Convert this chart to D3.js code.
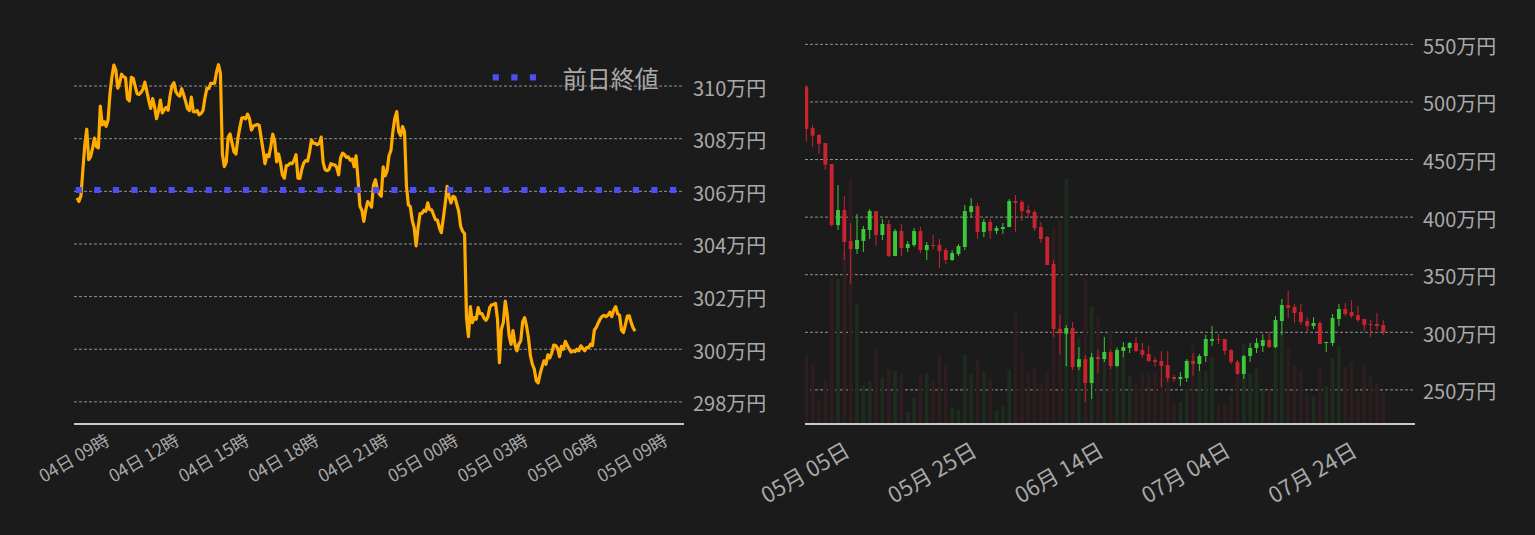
<!DOCTYPE html>
<html>
<head>
<meta charset="utf-8">
<script src="https://d3js.org/d3.v7.min.js"></script>
<style>
  html, body { margin: 0; padding: 0; background: #1b1b1b; }
  svg { display: block; font-family: "Noto Sans CJK JP", "Noto Sans", sans-serif; }
</style>
</head>
<body>
<div id="chart"></div>
<script>
// ---- intraday (5 min steps, 万円) ----
const intradayStart = new Date(2022, 7, 4, 7, 35);
const intradayStepMin = 5;
const intradayValues = [
  305.75, 305.62, 305.83, 306.82, 307.77, 308.36, 307.20, 307.32, 307.64, 308.02,
  307.70, 307.65, 309.24, 308.52, 308.65, 308.47, 308.71, 309.72, 310.35, 310.80,
  310.61, 309.92, 310.13, 310.45, 310.35, 310.32, 309.52, 309.44, 310.33, 310.29,
  309.99, 309.71, 309.68, 309.76, 309.87, 310.15, 309.81, 309.46, 309.15, 309.52,
  309.22, 308.76, 309.04, 309.47, 308.98, 309.10, 309.19, 309.08, 309.63, 310.01,
  310.13, 309.79, 309.67, 309.62, 309.90, 309.68, 309.42, 309.14, 309.07, 309.58,
  309.03, 309.02, 309.07, 308.91, 308.96, 309.07, 309.55, 309.91, 309.90, 310.10,
  310.10, 310.11, 310.54, 310.81, 310.48, 307.42, 306.94, 307.10, 308.06, 308.18,
  307.83, 307.50, 307.42, 308.01, 308.42, 308.78, 308.80, 308.75, 308.93, 308.76,
  308.33, 308.48, 308.51, 308.54, 308.51, 308.04, 307.58, 307.05, 307.39, 307.32,
  307.70, 308.17, 307.89, 307.12, 307.42, 307.08, 306.62, 306.50, 306.98, 306.99,
  307.07, 307.05, 307.18, 307.39, 306.50, 306.49, 306.84, 307.08, 307.17, 307.15,
  307.49, 307.95, 307.83, 307.82, 307.77, 307.82, 308.06, 307.10, 306.83, 306.79,
  306.83, 307.05, 307.01, 307.01, 306.91, 306.63, 307.26, 307.45, 307.40, 307.29,
  307.31, 307.18, 307.23, 306.94, 307.35, 306.46, 305.44, 305.28, 304.86, 305.30,
  305.61, 305.52, 305.40, 306.24, 306.44, 306.09, 305.90, 305.81, 306.93, 306.59,
  306.77, 307.35, 307.55, 308.27, 308.78, 309.03, 308.26, 308.12, 308.46, 308.27,
  306.21, 305.49, 305.42, 304.90, 304.61, 303.93, 304.61, 305.15, 305.16, 305.28,
  305.24, 305.56, 305.30, 305.30, 305.11, 304.92, 304.91, 304.61, 304.43, 304.96,
  305.52, 306.19, 305.80, 305.56, 305.81, 305.78, 305.51, 305.24, 304.67, 304.48,
  304.39, 301.20, 300.48, 301.62, 301.01, 301.20, 301.14, 301.58, 301.35, 301.35,
  301.19, 301.10, 301.22, 301.59, 301.69, 301.70, 301.74, 301.14, 299.49, 300.76,
  301.01, 301.83, 301.33, 300.51, 300.19, 300.71, 300.19, 299.94, 300.19, 300.32,
  301.05, 301.20, 300.88, 300.42, 299.75, 299.43, 299.24, 298.80, 298.72, 299.07,
  299.33, 299.56, 299.43, 299.79, 299.67, 299.85, 300.16, 300.14, 300.05, 299.72,
  300.11, 300.00, 300.30, 300.15, 300.01, 299.89, 299.94, 299.91, 300.00, 299.94,
  300.13, 300.04, 299.94, 300.06, 300.06, 300.19, 300.14, 300.73, 300.83, 301.00,
  301.15, 301.25, 301.29, 301.24, 301.29, 301.41, 301.24, 301.49, 301.62, 301.35,
  301.29, 300.73, 300.63, 300.93, 301.26, 301.27, 301.01, 300.81, 300.69
];
const prevClose = 306.05;
const legendLabel = "前日終値";
const intradayYTicks = [298, 300, 302, 304, 306, 308, 310];

// ---- daily candles (万円), from 2022-04-28 ----
const dailyStart = new Date(2022, 3, 28);
const opens = [
  513.2, 477.3, 471.3, 464.3, 446.1, 393.1, 406.2, 379.3, 372.3, 379.3,
  388.8, 405.3, 384.5, 394.0, 366.2, 387.9, 373.2, 375.8, 387.9, 371.4,
  375.8, 375.8, 371.4, 362.8, 368.0, 374.1, 404.4, 409.6, 387.1, 395.8,
  388.0, 389.7, 391.4, 414.0, 413.1, 406.2, 404.4, 391.4, 382.7, 359.3,
  302.9, 298.8, 303.7, 269.8, 276.7, 256.0, 278.5, 276.7, 282.9, 270.7,
  283.8, 286.4, 290.7, 284.6, 281.2, 276.0, 275.1, 271.6, 261.2, 259.5,
  260.3, 275.1, 272.5, 279.4, 292.4, 294.2, 294.2, 284.6, 274.2, 263.8,
  279.4, 286.4, 288.1, 293.3, 287.2, 309.8, 323.7, 322.0, 317.7, 309.8,
  305.5, 308.1, 290.7, 290.7, 311.5, 320.2, 317.7, 315.0, 311.5, 307.2,
  307.2, 306.4
];
const highs = [
  514.7, 480.0, 472.1, 464.3, 446.1, 427.9, 418.3, 394.9, 402.7, 392.3,
  407.0, 405.3, 398.4, 397.5, 389.7, 394.0, 379.3, 390.5, 391.4, 378.4,
  384.5, 381.0, 373.2, 371.4, 376.6, 410.5, 416.6, 412.3, 398.4, 398.4,
  392.3, 394.9, 415.7, 419.2, 414.8, 410.5, 406.2, 395.8, 383.6, 362.8,
  315.0, 306.3, 309.0, 287.1, 280.3, 282.0, 284.6, 296.0, 284.6, 286.4,
  291.5, 291.5, 295.9, 290.7, 288.1, 278.5, 283.8, 283.8, 263.0, 265.5,
  276.8, 282.0, 281.2, 297.7, 305.5, 298.5, 294.2, 285.5, 276.0, 280.3,
  290.7, 295.0, 298.5, 300.3, 314.1, 328.9, 335.8, 324.6, 324.6, 313.2,
  313.2, 309.8, 291.6, 315.9, 324.6, 325.4, 328.0, 322.8, 311.5, 310.6,
  316.8, 310.6
];
const lows = [
  465.5, 461.1, 455.0, 441.1, 392.0, 388.8, 362.8, 342.2, 368.0, 369.7,
  381.0, 375.0, 380.1, 365.4, 366.2, 366.2, 369.7, 374.1, 368.8, 362.8,
  372.3, 355.8, 359.3, 361.9, 366.2, 371.4, 400.1, 381.0, 382.7, 381.0,
  385.3, 385.3, 391.4, 387.1, 396.6, 400.1, 388.0, 377.5, 358.4, 296.0,
  280.3, 270.7, 267.2, 267.2, 239.5, 242.1, 264.6, 274.1, 268.1, 269.8,
  278.5, 282.0, 282.9, 277.7, 274.2, 269.8, 252.5, 256.9, 256.9, 253.4,
  256.9, 262.0, 266.4, 274.2, 288.1, 289.9, 280.3, 272.5, 263.0, 259.5,
  274.2, 282.0, 282.9, 286.4, 286.4, 297.6, 312.4, 308.1, 306.4, 299.4,
  302.9, 289.9, 282.9, 288.1, 305.5, 314.1, 312.4, 309.0, 301.1, 296.0,
  302.0, 297.6
];
const closes = [
  476.5, 470.7, 463.7, 445.5, 393.1, 406.2, 378.4, 372.3, 380.1, 389.7,
  405.3, 384.5, 394.0, 366.2, 387.9, 373.2, 376.7, 387.9, 371.4, 375.8,
  374.9, 370.6, 362.8, 368.8, 374.9, 405.3, 409.6, 387.1, 395.8, 388.0,
  390.5, 391.4, 414.0, 412.3, 405.3, 403.6, 390.5, 381.0, 358.4, 302.9,
  299.1, 303.7, 269.8, 276.7, 256.0, 278.5, 276.7, 282.9, 270.7, 284.6,
  287.2, 290.7, 283.8, 280.3, 275.1, 274.2, 270.7, 260.3, 259.5, 261.2,
  275.1, 272.5, 279.4, 294.2, 294.2, 293.3, 283.8, 274.2, 263.8, 279.4,
  286.4, 290.7, 293.3, 287.2, 310.6, 323.7, 321.1, 316.8, 309.0, 305.5,
  308.1, 289.9, 291.6, 312.4, 320.2, 315.9, 314.1, 310.6, 306.4, 306.4,
  305.5, 300.3
];
const volumes = [
  2760, 2440, 920, 1720, 5840, 5800, 6880, 9800, 4800, 1560,
  1720, 3000, 1880, 2200, 2120, 2000, 480, 1040, 2000, 2000,
  1720, 2800, 2360, 680, 560, 2760, 2000, 2560, 2080, 1840,
  520, 720, 2200, 4480, 2920, 2080, 2200, 1640, 2120, 7840,
  8160, 9800, 3160, 3480, 5840, 4680, 4280, 2560, 3680, 3120,
  2720, 1920, 1600, 2080, 2040, 2080, 1880, 1880, 880, 880,
  1400, 3160, 2120, 2120, 2680, 800, 840, 1200, 1880, 3200,
  2040, 2240, 1360, 1360, 3560, 3600, 3040, 2320, 2160, 1200,
  1120, 2240, 1520, 2640, 3120, 2280, 2520, 1240, 2360, 1960,
  1600, 1280
];
const dailyYTicks = [250, 300, 350, 400, 450, 500, 550];
const dailyXTicks = ["2022-05-05", "2022-05-25", "2022-06-14", "2022-07-04", "2022-07-24"];

const W = 1535, H = 535;
const bg = "#1b1b1b", gridColor = "#b0b0b0", axisColor = "#c8c8c8", textColor = "#a9a9a9";
const upColor = "#3cc83a", downColor = "#c9242e";
const upVol = "#1e2c1e", downVol = "#2d1d1f";

const svg = d3.select("#chart").append("svg")
  .attr("width", W).attr("height", H);
svg.append("rect").attr("width", W).attr("height", H).attr("fill", bg);

// ===================== LEFT: intraday line =====================
const intraday = intradayValues.map((v, i) => ({
  t: d3.timeMinute.offset(intradayStart, i * intradayStepMin), v
}));

const lx = d3.scaleTime()
  .domain([new Date(2022, 7, 4, 7, 27, 6), new Date(2022, 7, 5, 9, 41, 18)])
  .range([74, 684]);
const ly = d3.scaleLinear().domain([297.16, 311.37]).range([424, 50]);

const left = svg.append("g");

// grid
left.selectAll(".lgrid").data(intradayYTicks).enter().append("line")
  .attr("x1", 74).attr("x2", 684)
  .attr("y1", d => ly(d)).attr("y2", d => ly(d))
  .attr("stroke", gridColor).attr("stroke-width", 0.8)
  .attr("stroke-dasharray", "3,2");

// y labels
left.selectAll(".lylab").data(intradayYTicks).enter().append("text")
  .attr("x", 693).attr("y", d => ly(d) + 1)
  .attr("dominant-baseline", "central")
  .attr("fill", textColor).attr("font-size", 20)
  .text(d => `${d}万円`);

// line
left.append("path")
  .datum(intraday)
  .attr("fill", "none")
  .attr("stroke", "#ffab00")
  .attr("stroke-width", 3.2)
  .attr("stroke-linejoin", "round")
  .attr("d", d3.line().x(d => lx(d.t)).y(d => ly(d.v)));

// previous close (dotted)
left.append("line")
  .attr("x1", 74).attr("x2", 684)
  .attr("y1", ly(prevClose)).attr("y2", ly(prevClose))
  .attr("stroke", "#4d4df5").attr("stroke-width", 6.2)
  .attr("stroke-dasharray", "6.2,12.37")
  .attr("stroke-dashoffset", -1.7);

// bottom axis line
left.append("line")
  .attr("x1", 74).attr("x2", 684).attr("y1", 424).attr("y2", 424)
  .attr("stroke", axisColor).attr("stroke-width", 2);

// x labels
const lTicks = lx.ticks(d3.timeHour.every(3));
const lFmt = d3.timeFormat("%d日 %H時");
left.selectAll(".lxlab").data(lTicks).enter().append("text")
  .attr("transform", d => `translate(${lx(d) + 1},444) rotate(-30)`)
  .attr("text-anchor", "end")
  .attr("fill", textColor).attr("font-size", 17.5)
  .text(d => lFmt(d));

// legend
const legY = 77.3;
left.append("line")
  .attr("x1", 492.7).attr("x2", 537)
  .attr("y1", legY).attr("y2", legY)
  .attr("stroke", "#4d4df5").attr("stroke-width", 6.2)
  .attr("stroke-dasharray", "6.2,12.37");
left.append("text")
  .attr("x", 562.7).attr("y", legY)
  .attr("dominant-baseline", "central")
  .attr("fill", textColor).attr("font-size", 24)
  .text(legendLabel);

// ===================== RIGHT: daily candles =====================
const candles = opens.map((o, i) => ({
  d: d3.timeDay.offset(dailyStart, i),
  o, h: highs[i], l: lows[i], c: closes[i], vol: volumes[i]
}));

const dayMs = 864e5;
const rx = d3.scaleTime()
  .domain([new Date(+dailyStart - 0.205 * dayMs), new Date(+dailyStart + 96.0 * dayMs)])
  .range([805, 1415]);
const ry = d3.scaleLinear().domain([220.4, 570]).range([424, 21.3]);
const rv = d3.scaleLinear().domain([0, 16000]).range([424, 24]);

const right = svg.append("g");
svg.append("clipPath").attr("id", "rclip")
  .append("rect").attr("x", 805).attr("y", 0).attr("width", 610).attr("height", 424);

// grid
right.selectAll(".rgrid").data(dailyYTicks).enter().append("line")
  .attr("x1", 805).attr("x2", 1415)
  .attr("y1", d => ry(d)).attr("y2", d => ry(d))
  .attr("stroke", gridColor).attr("stroke-width", 0.8)
  .attr("stroke-dasharray", "3,2");

right.selectAll(".rylab").data(dailyYTicks).enter().append("text")
  .attr("x", 1423).attr("y", d => ry(d) + 1)
  .attr("dominant-baseline", "central")
  .attr("fill", textColor).attr("font-size", 20)
  .text(d => `${d}万円`);

const plot = right.append("g").attr("clip-path", "url(#rclip)");

// volume
plot.selectAll(".vol").data(candles).enter().append("rect")
  .attr("x", d => rx(d.d) - 1.8).attr("width", 3.6)
  .attr("y", d => rv(d.vol)).attr("height", d => 424 - rv(d.vol))
  .attr("fill", d => d.c >= d.o ? upVol : downVol);

// wicks
plot.selectAll(".wick").data(candles).enter().append("line")
  .attr("x1", d => rx(d.d)).attr("x2", d => rx(d.d))
  .attr("y1", d => ry(d.h)).attr("y2", d => ry(d.l))
  .attr("stroke", d => d.c >= d.o ? upColor : downColor)
  .attr("stroke-width", 1);

// bodies
plot.selectAll(".body").data(candles).enter().append("rect")
  .attr("x", d => rx(d.d) - 1.95).attr("width", 3.9)
  .attr("y", d => ry(Math.max(d.o, d.c)))
  .attr("height", d => Math.max(1, Math.abs(ry(d.o) - ry(d.c))))
  .attr("fill", d => d.c >= d.o ? upColor : downColor);

// bottom axis
right.append("line")
  .attr("x1", 805).attr("x2", 1415).attr("y1", 424).attr("y2", 424)
  .attr("stroke", axisColor).attr("stroke-width", 2);

const rFmt = d3.timeFormat("%m月 %d日");
const rParse = d3.timeParse("%Y-%m-%d");
right.selectAll(".rxlab").data(dailyXTicks.map(rParse)).enter().append("text")
  .attr("transform", d => `translate(${rx(d) + 1},455) rotate(-30)`)
  .attr("text-anchor", "end")
  .attr("fill", textColor).attr("font-size", 22)
  .text(d => rFmt(d));
</script>
</body>
</html>
